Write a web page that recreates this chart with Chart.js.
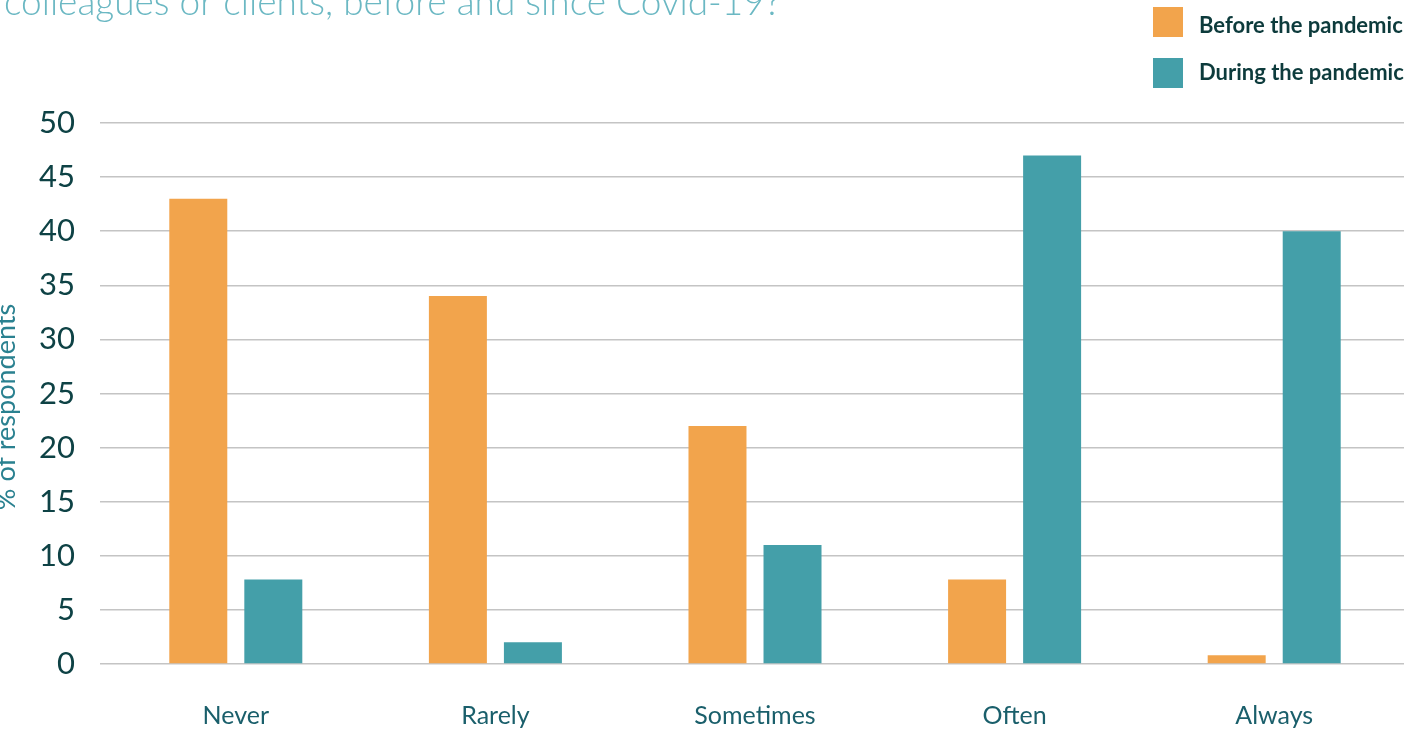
<!DOCTYPE html>
<html>
<head>
<meta charset="utf-8">
<script src="https://cdn.jsdelivr.net/npm/chart.js@4"></script>
<style>
  html, body { margin: 0; padding: 0; background: #ffffff; }
  #wrap { position: relative; width: 1420px; height: 731px; }
</style>
</head>
<body>
<div id="wrap"><canvas id="chart_bars"></canvas></div>
<script>
// Datos de la encuesta
const categorias = ["Never", "Rarely", "Sometimes", "Often", "Always"];
const antes =   [43, 34, 22, 7.8, 0.8];
const durante = [7.8, 2, 11, 47, 40];
const etiquetas_series = ["Before the pandemic", "During the pandemic"];
const ticks_y = [0, 5, 10, 15, 20, 25, 30, 35, 40, 45, 50];
const titulo = "colleagues or clients, before and since Covid-19?";
const titulo_y = "% of respondents";

const NARANJA = "#F2A44C";
const TURQUESA = "#449FA9";

// Titulo (cortado arriba), titulo del eje Y y leyenda vertical arriba a la derecha
const cabecera = {
	id: "cabecera",
	afterDraw(chart) {
		const c = chart.ctx;
		c.save();
		c.fillStyle = "#6BB8C3";
		c.font = "300 37px Lato";
		c.textBaseline = "alphabetic";
		c.textAlign = "left";
		c.fillText(titulo, 4, 15);

		// titulo del eje Y, girado
		c.save();
		c.translate(15, 407);
		c.rotate(-Math.PI / 2);
		c.fillStyle = "#2A8190";
		c.font = "27px Lato";
		c.textAlign = "center";
		c.textBaseline = "alphabetic";
		c.fillText(titulo_y, 0, 0);
		c.restore();

		chart.data.datasets.forEach((ds, i) => {
			c.fillStyle = ds.backgroundColor;
			c.fillRect(1153, 7 + i * 51, 30, 30);
			c.fillStyle = "#0D3B3C";
			c.font = "bold 22px Lato";
			c.textAlign = "left";
			c.textBaseline = "alphabetic";
			c.fillText(ds.label, 1199, 33 + i * 47);
		});
		c.restore();
	}
};

const ctx = document.getElementById("chart_bars").getContext("2d");

let chart_bars = new Chart(ctx, {
	type: "bar",
	data: {
		labels: categorias,
		datasets: [
			{
				label: etiquetas_series[0],
				data: antes,
				backgroundColor: NARANJA,
				categoryPercentage: 0.578,
				barPercentage: 0.773,
			},
			{
				label: etiquetas_series[1],
				data: durante,
				backgroundColor: TURQUESA,
				categoryPercentage: 0.578,
				barPercentage: 0.773,
			}
		],
	},
	options: {
		responsive: true,
		maintainAspectRatio: false,
		animation: false,
		layout: {
			padding: { top: 123, right: 16, bottom: 0, left: 0 },
		},
		plugins: {
			legend: { display: false },
			tooltip: { enabled: false },
		},
		scales: {
			x: {
				grid: { display: false },
				border: { display: false },
				ticks: {
					color: "#1A5F6B",
					font: { family: "Lato", size: 25 },
					padding: 29,
				},
				afterFit(scale) { scale.height = 67; },
			},
			y: {
				min: 0,
				max: 50,
				afterBuildTicks(scale) {
					scale.ticks = ticks_y.map(v => ({ value: v }));
				},
				grid: {
					color: "#C4C4C4",
					lineWidth: 1.5,
					tickLength: 6,
				},
				border: { display: false },
				ticks: {
					color: "#0E4245",
					font: { family: "Lato", size: 31 },
					padding: 25,
				},
				afterFit(scale) { scale.width = 106; },
			},
		},
	},
	plugins: [cabecera],
});
</script>
</body>
</html>
